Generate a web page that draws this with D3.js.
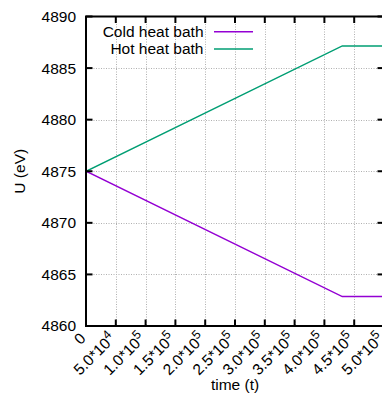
<!DOCTYPE html>
<html>
<head>
<meta charset="utf-8">
<script src="https://cdn.jsdelivr.net/npm/d3@7"></script>
<style>
  html, body { margin: 0; padding: 0; background: #fff; }
  svg { display: block; font-family: "Liberation Sans", Arial, sans-serif; }
</style>
</head>
<body>
<svg id="chart" width="382" height="398"></svg>
<script>
// Internal energy of the two heat baths over time
const times  = [0, 430000, 520000];
const coldU  = [4875, 4862.85, 4862.85];
const hotU   = [4875, 4887.15, 4887.15];
const seriesNames = ["Cold heat bath", "Hot heat bath"];
const seriesColors = ["#9400d3", "#009e73"];
const xTicks = [0, 50000, 100000, 150000, 200000, 250000, 300000, 350000, 400000, 450000, 500000];
const xTickMant = ["0", "5.0", "1.0", "1.5", "2.0", "2.5", "3.0", "3.5", "4.0", "4.5", "5.0"];
const xTickExp  = ["", "4", "5", "5", "5", "5", "5", "5", "5", "5", "5"];
const yTicks = [4860, 4865, 4870, 4875, 4880, 4885, 4890];

const svg = d3.select("#chart");
const pL = 86, pR = 384, pT = 16.5, pB = 326;
const fs = 15.5;

const x = d3.scaleLinear().domain([0, 500000]).range([pL, pR]);
const y = d3.scaleLinear().domain([4860, 4890]).range([pB, pT]);

svg.append("defs").append("clipPath").attr("id", "plotclip")
  .append("rect").attr("x", pL).attr("y", pT).attr("width", pR - pL).attr("height", pB - pT);

// grid
const grid = svg.append("g").attr("stroke", "#b0b0b0").attr("stroke-width", 1).attr("stroke-dasharray", "1,1.5");
grid.selectAll("line.gx").data(xTicks.slice(1, -1)).join("line")
  .attr("x1", d => Math.round(x(d)) + 0.5).attr("x2", d => Math.round(x(d)) + 0.5)
  .attr("y1", pT).attr("y2", pB);
grid.selectAll("line.gy").data(yTicks.slice(1, -1)).join("line")
  .attr("x1", pL).attr("x2", pR)
  .attr("y1", d => Math.round(y(d)) + 0.5).attr("y2", d => Math.round(y(d)) + 0.5);

// series
const line = d3.line().x(d => x(d[0])).y(d => y(d[1]));
const series = [coldU, hotU];
const plot = svg.append("g").attr("clip-path", "url(#plotclip)");
series.forEach((vals, i) => {
  plot.append("path")
    .datum(times.map((t, k) => [t, vals[k]]))
    .attr("fill", "none").attr("stroke", seriesColors[i]).attr("stroke-width", 1.5)
    .attr("d", line);
});

// ticks (inward, mirrored)
const tk = svg.append("g").attr("stroke", "#000").attr("stroke-width", 2);
xTicks.forEach(t => {
  tk.append("line").attr("x1", x(t)).attr("x2", x(t)).attr("y1", pB).attr("y2", pB - 6.5);
  tk.append("line").attr("x1", x(t)).attr("x2", x(t)).attr("y1", pT).attr("y2", pT + 6.5);
});
yTicks.forEach(v => {
  tk.append("line").attr("x1", pL).attr("x2", pL + 6.5).attr("y1", y(v)).attr("y2", y(v));
  tk.append("line").attr("x1", pR).attr("x2", pR - 6.5).attr("y1", y(v)).attr("y2", y(v));
});

// border
svg.append("rect").attr("x", pL).attr("y", pT).attr("width", pR - pL).attr("height", pB - pT)
  .attr("fill", "none").attr("stroke", "#000").attr("stroke-width", 2);

// y tick labels
svg.append("g").selectAll("text").data(yTicks).join("text")
  .attr("x", 76).attr("y", d => y(d)).attr("dy", "0.35em")
  .attr("text-anchor", "end").attr("font-size", fs).text(d => d);

// x tick labels, rotated
const xl = svg.append("g");
xTicks.forEach((t, i) => {
  const g = xl.append("text")
    .attr("transform", `translate(${x(t) + 0.7},${pB + 13.5}) rotate(-45)`)
    .attr("text-anchor", "end").attr("font-size", fs);
  if (xTickExp[i] === "") {
    g.text(xTickMant[i]);
  } else {
    g.append("tspan").text(xTickMant[i] + "*10");
    g.append("tspan").attr("font-size", fs * 0.8).attr("dy", "-0.5em").text(xTickExp[i]);
  }
});

// axis titles
svg.append("text").attr("x", (pL + pR) / 2).attr("y", 390).attr("text-anchor", "middle")
  .attr("font-size", fs).text("time (t)");
svg.append("text").attr("transform", `translate(25,${y(4875)}) rotate(-90)`)
  .attr("text-anchor", "middle").attr("font-size", fs).text("U (eV)");

// legend
const lg = svg.append("g");
seriesNames.forEach((name, i) => {
  const ly = 31.7 + i * 17.3;
  lg.append("text").attr("x", 203.5).attr("y", ly).attr("dy", "0.35em")
    .attr("text-anchor", "end").attr("font-size", fs).text(name);
  lg.append("line").attr("x1", 214).attr("x2", 253).attr("y1", ly).attr("y2", ly)
    .attr("stroke", seriesColors[i]).attr("stroke-width", 1.5);
});
</script>
</body>
</html>
